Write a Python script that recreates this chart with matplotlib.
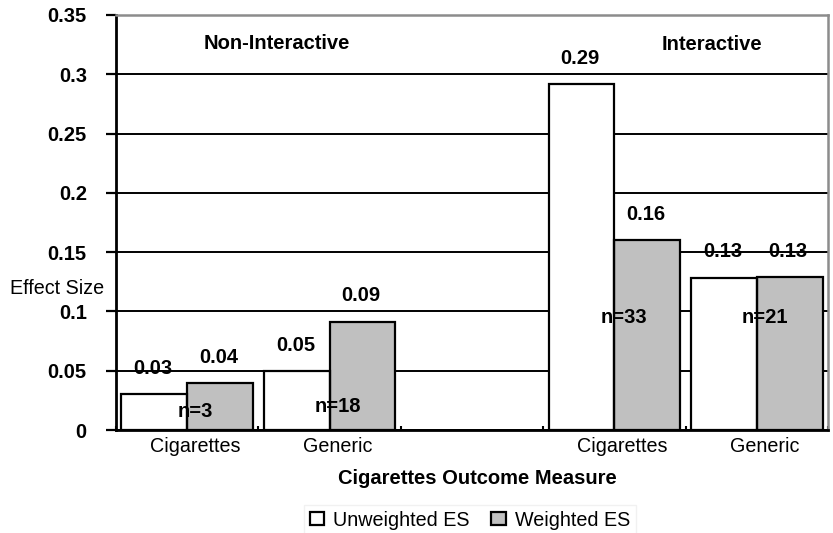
import matplotlib
matplotlib.use("Agg")
import matplotlib.pyplot as plt
import matplotlib.transforms as mtransforms
from matplotlib.patches import Patch
import numpy as np

plt.rcParams['font.family'] = ['Liberation Sans', 'DejaVu Sans']

# Category slots (the middle slot is an empty spacer between the two groups)
slot_labels = ["Cigarettes", "Generic", "", "Cigarettes", "Generic"]
bar_slots = [0, 1, 3, 4]
unweighted = [0.0304, 0.050, 0.2915, 0.1285]
weighted = [0.0394, 0.0914, 0.160, 0.1288]
n_labels = ["n=3", "n=18", "n=33", "n=21"]
n_label_pos = [(0.055, 0.016), (1.06, 0.0194), (3.07, 0.0945), (4.06, 0.0945)]
group_labels = ["Non-Interactive", "Interactive"]
group_label_pos = [(0.63, 0.326), (3.685, 0.325)]
yticks = [0, 0.05, 0.1, 0.15, 0.2, 0.25, 0.3, 0.35]
ytick_labels = ["0", "0.05", "0.1", "0.15", "0.2", "0.25", "0.3", "0.35"]

FS_B = 14.5
FS_R = 14.2
GRAY = "#c0c0c0"

fig = plt.figure(figsize=(8.33, 5.33), dpi=100)
ax = fig.add_axes([116 / 833, 1 - 430 / 533, (828 - 116) / 833, (430 - 15) / 533])

x = np.array(bar_slots, dtype=float)
w = 0.462

# Bar fills beneath the text, bar outlines on top
for vals, off, col in [(unweighted, -w / 2, "white"), (weighted, w / 2, GRAY)]:
    ax.bar(x + off, vals, width=w, color=col, edgecolor="none", zorder=2)
    ax.bar(x + off, vals, width=w, fill=False, edgecolor="black", linewidth=1.6, zorder=4)
    for xi, v in zip(x + off, vals):
        ax.annotate(f"{v:.2f}", (xi, v), xytext=(-1, 18.5), textcoords="offset points",
                    ha="center", va="center", fontsize=FS_B, fontweight="bold", zorder=1)

for txt, (px, py) in zip(n_labels, n_label_pos):
    ax.text(px, py, txt, ha="center", va="center", fontsize=FS_B, fontweight="bold", zorder=3)

for txt, (px, py) in zip(group_labels, group_label_pos):
    ax.text(px, py, txt, ha="center", va="center", fontsize=FS_B, fontweight="bold", zorder=3)

ax.set_xlim(-0.5, 4.5)
ax.set_ylim(0, 0.35)

# Horizontal grid
ax.set_axisbelow("line")
ax.yaxis.grid(True, color="black", linewidth=1.4)
ax.xaxis.grid(False)

ax.set_yticks(yticks)
ax.set_yticklabels(ytick_labels, fontsize=FS_B, fontweight="bold")
ax.tick_params(axis="y", direction="out", length=7, width=1.6, pad=14)

ax.set_xticks(range(len(slot_labels)))
ax.set_xticklabels(slot_labels, fontsize=FS_R)
ax.tick_params(axis="x", which="major", length=0, pad=5)
ax.set_xticks(np.arange(-0.5, 5.0, 1.0), minor=True)
ax.tick_params(axis="x", which="minor", direction="in", length=3, width=1.5)
shift = mtransforms.ScaledTranslation(8 / 100, 0, fig.dpi_scale_trans)
for lbl in ax.get_xticklabels():
    lbl.set_transform(lbl.get_transform() + shift)

for side in ["left", "bottom"]:
    ax.spines[side].set_color("black")
    ax.spines[side].set_linewidth(2)
for side in ["top", "right"]:
    ax.spines[side].set_color("#8c8c8c")
    ax.spines[side].set_linewidth(1.8)

fig.text(104 / 833, 1 - 288 / 533, "Effect Size", ha="right", va="center", fontsize=FS_R)
fig.text(477 / 833, 1 - 478 / 533, "Cigarettes Outcome Measure", ha="center", va="center",
         fontsize=FS_B, fontweight="bold")

handles = [Patch(facecolor="white", edgecolor="black", linewidth=1.6, label="Unweighted ES"),
           Patch(facecolor=GRAY, edgecolor="black", linewidth=1.6, label="Weighted ES")]
leg = fig.legend(handles=handles, loc="center", bbox_to_anchor=(470 / 833, 1 - 520 / 533),
                 ncol=2, fontsize=FS_R, frameon=True, fancybox=False,
                 handlelength=0.75, handleheight=0.65, handletextpad=0.45, columnspacing=1.1,
                 borderpad=0.3)
leg.get_frame().set_edgecolor("#eeeeee")
leg.get_frame().set_linewidth(1.0)

fig.savefig("out.png", dpi=100)
